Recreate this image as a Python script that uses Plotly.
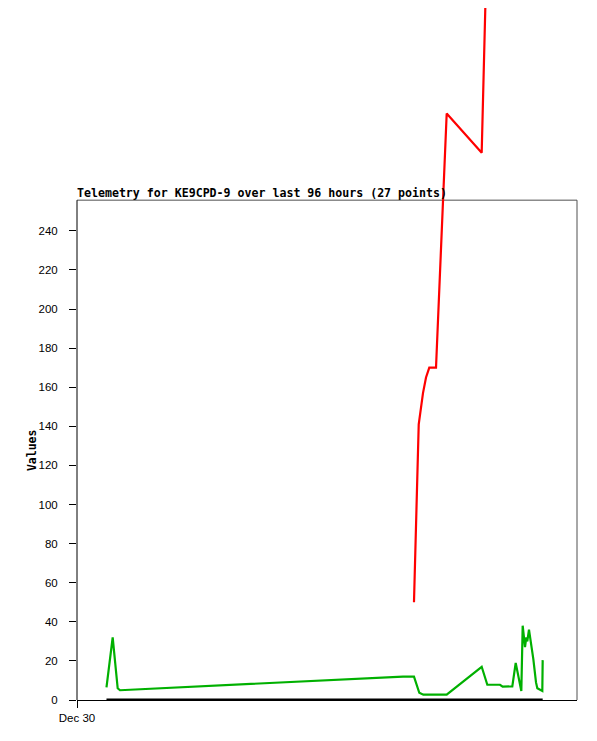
import pandas as pd
import plotly.graph_objects as go

# --- data (hours after Dec 30 00:00) ---
start = pd.Timestamp("2023-12-30 00:00")
green_hours = [5.66, 6.85, 7.81, 8.26, 62.59, 64.70, 65.72, 66.49, 70.98, 77.70,
               78.78, 81.22, 81.73, 83.58, 84.23, 84.92, 85.31, 85.57, 86.02,
               86.27, 86.46, 86.78, 87.11, 87.61, 88.13, 88.38, 89.34, 89.41]
green_vals = [6.5, 32, 6, 5, 12, 12, 3.7, 2.7, 2.7, 17,
              7.8, 7.8, 6.8, 7, 19, 10, 4.6, 38, 27,
              32, 30, 36, 30.6, 21, 9, 6, 4.6, 20.4]
red_hours = [64.70, 65.61, 66.43, 67.01, 67.64, 68.93, 70.98, 77.70, 78.78, 89.41]
red_vals = [50, 141, 157, 165, 170, 170, 300, 280, 395, 430]
black_hours = [5.66, 89.41]
black_vals = [0, 0]

y_ticks = [0, 20, 40, 60, 80, 100, 120, 140, 160, 180, 200, 220, 240]
x_tick_labels = ["Dec 30"]
title_text = "Telemetry for KE9CPD-9 over last 96 hours (27 points)"
y_title = "Values"

FRAME_TOP = 255.7
Y_MAX = 354


def to_time(hours):
    return [start + pd.Timedelta(hours=h) for h in hours]


fig = go.Figure()
fig.add_trace(go.Scatter(x=to_time(black_hours), y=black_vals, mode="lines",
                         line=dict(color="#000000", width=3), showlegend=False))
fig.add_trace(go.Scatter(x=to_time(green_hours), y=green_vals, mode="lines",
                         line=dict(color="#00b000", width=2.2), showlegend=False))
fig.add_trace(go.Scatter(x=to_time(red_hours), y=red_vals, mode="lines",
                         line=dict(color="#ff0000", width=2.2), showlegend=False))

fig.update_layout(
    width=589, height=733,
    margin=dict(l=69, r=20, t=0, b=41),
    paper_bgcolor="white", plot_bgcolor="white",
    showlegend=False,
    xaxis=dict(
        type="date",
        range=[start, start + pd.Timedelta(hours=96)],
        tickvals=[start], ticktext=x_tick_labels,
        ticks="outside", ticklen=7, tickcolor="#000", tickwidth=1,
        showgrid=False, zeroline=False,
        showline=True, linecolor="#000", linewidth=1,
        tickfont=dict(family="Liberation Sans", size=11.5, color="#000"),
    ),
    yaxis=dict(
        range=[0, Y_MAX],
        tickvals=y_ticks,
        ticks="outside", ticklen=7, tickcolor="#000", tickwidth=1,
        ticklabelstandoff=9,
        showgrid=False, zeroline=False, showline=False,
        tickfont=dict(family="Liberation Sans", size=11.5, color="#000"),
    ),
    shapes=[
        dict(type="line", xref="paper", yref="y", x0=0, x1=1, y0=FRAME_TOP, y1=FRAME_TOP,
             line=dict(color="#505050", width=1), layer="below"),
        dict(type="line", xref="paper", yref="y", x0=1, x1=1, y0=0, y1=FRAME_TOP,
             line=dict(color="#505050", width=1), layer="below"),
        dict(type="line", xref="paper", yref="y", x0=0, x1=0, y0=0, y1=FRAME_TOP,
             line=dict(color="#000000", width=1), layer="below"),
    ],
    annotations=[
        dict(text=title_text, xref="paper", yref="y", x=0, y=FRAME_TOP,
             xanchor="left", yanchor="bottom", showarrow=False, yshift=-2, xshift=-2,
             font=dict(family="DejaVu Sans Mono", size=11.6, color="#000", weight="bold")),
        dict(text=y_title, xref="paper", yref="y", x=0, y=FRAME_TOP / 2,
             xanchor="center", yanchor="middle", showarrow=False, xshift=-45,
             textangle=-90,
             font=dict(family="DejaVu Sans Mono", size=11.5, color="#000", weight="bold")),
    ],
)

fig.write_html("out.html")
